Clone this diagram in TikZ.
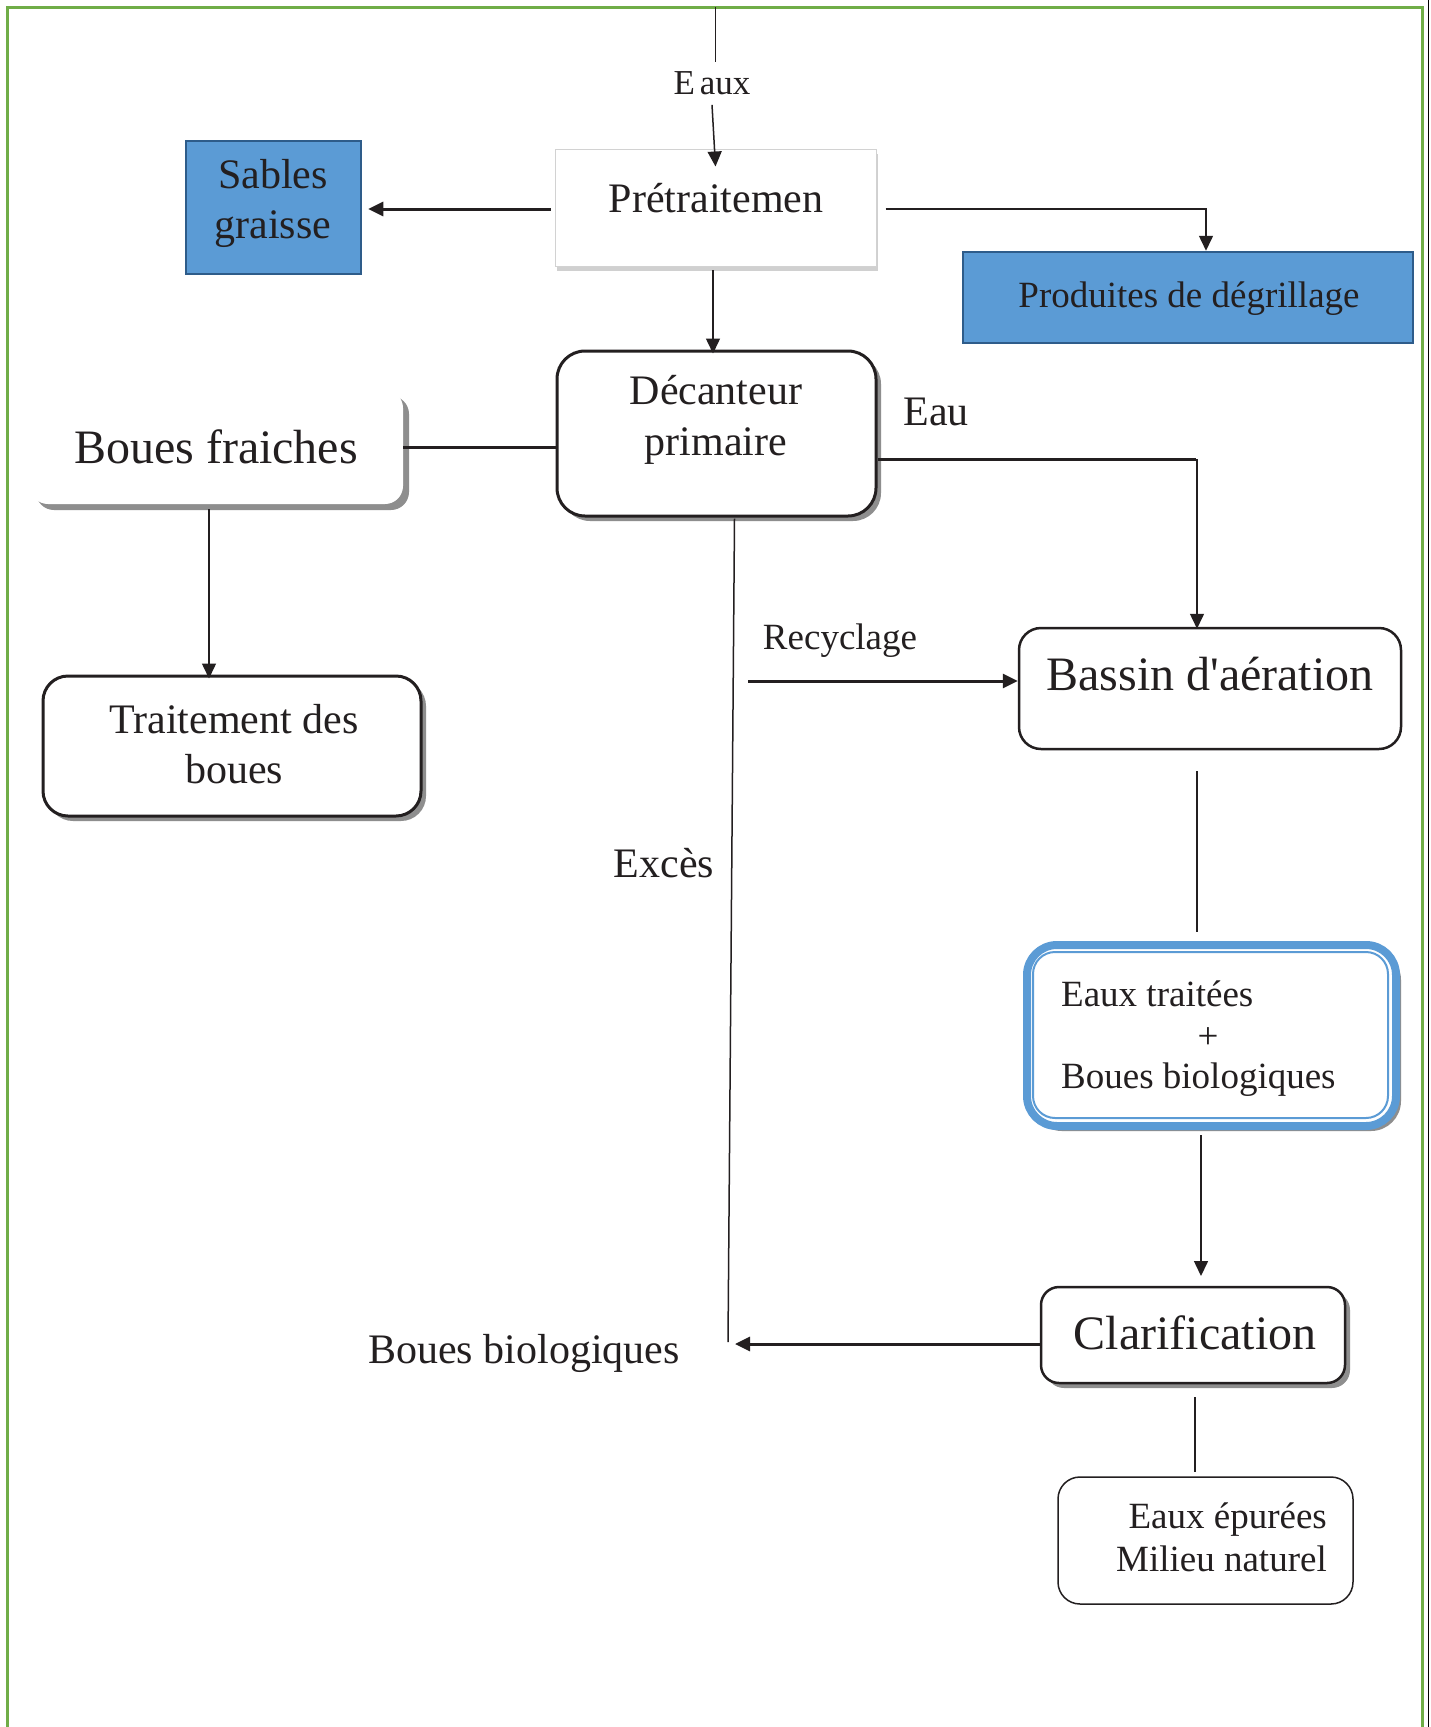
\documentclass[tikz,border=0pt]{standalone}
\usepackage{fontspec}
\setmainfont{Liberation Serif}
\usetikzlibrary{arrows.meta,shadows,calc}
\definecolor{ink}{HTML}{231F20}
\definecolor{bluefill}{HTML}{5B9BD5}
\definecolor{blueedge}{HTML}{2E5C8A}
\definecolor{framegreen}{HTML}{70AD47}
\definecolor{shade}{HTML}{8E8E8E}
\begin{document}
\begin{tikzpicture}[x=1pt,y=-1pt,
  txt/.style={text=ink, inner sep=0pt},
  fa/.style={font=\fontsize{35}{42}\selectfont},
  fb/.style={font=\fontsize{37}{43}\selectfont},
  fc/.style={font=\fontsize{42}{51}\selectfont},
  fd/.style={font=\fontsize{48}{56}\selectfont},
  box/.style={draw=ink, fill=white, inner sep=0pt},
  bluebox/.style={draw=blueedge, fill=bluefill, line width=2.5pt, inner sep=0pt},
  shd/.style={drop shadow={shadow xshift=5pt, shadow yshift=-5pt, fill=shade, opacity=1}},
  softshd/.style={drop shadow={shadow xshift=2pt, shadow yshift=-5pt, fill=gray!60, opacity=0.6}},
  arr/.style={-{Triangle[length=15pt,width=14pt]}},
  thin/.style={draw=ink, line width=1.5pt},
  thick/.style={draw=ink, line width=3pt}
]
\useasboundingbox (0,0) rectangle (1431,1727);
\fill[white] (0,0) rectangle (1431,1727);
\draw[framegreen, line width=3pt] (7,1727) -- (7,7) -- (1422,7) -- (1422,1727);
\draw[black, line width=1pt] (1428,0) -- (1428,1727);

% boxes
\node[box, draw=gray!35, line width=1pt, softshd, minimum width=321pt, minimum height=117pt] (pre) at (715.5,207.5) {};
\node[txt, fc] (pret) at (716,198) {Prétraitemen};

\node[bluebox, minimum width=175pt, minimum height=133pt] (sab) at (273.5,207.5) {};
\node[txt, align=center, font=\fontsize{42}{50}\selectfont] (sabt) at (273,203) {Sables\\graisse};

\node[bluebox, minimum width=450pt, minimum height=91pt] (prod) at (1188,297.5) {};
\node[txt, fb] (prodt) at (1189,299) {Produites de dégrillage};

\node[box, line width=3pt, rounded corners=28pt, shd, minimum width=319pt, minimum height=165pt] (dec) at (716.5,433.5) {};
\node[txt, fc, align=center] (dect) at (716,420) {Décanteur\\primaire};

\node[fill=white, rounded corners=18pt, drop shadow={shadow xshift=6pt, shadow yshift=-6pt, fill=shade, opacity=1}, minimum width=373pt, minimum height=114pt, inner sep=0pt] (bf) at (216.5,447) {};
\node[txt, fd] (bft) at (216,447) {Boues fraiches};

\node[box, line width=3pt, rounded corners=25pt, shd, minimum width=378pt, minimum height=140pt] (trt) at (232,746) {};
\node[txt, align=center, font=\fontsize{42}{50}\selectfont] (trtt) at (234,744) {Traitement des\\boues};

\node[box, line width=2.5pt, rounded corners=22pt, minimum width=382pt, minimum height=121pt] (bas) at (1210,688.5) {};
\node[txt, fd] (bast) at (1210,674) {Bassin d\textquotesingle aération};

\node[draw=bluefill, fill=white, line width=8pt, rounded corners=30pt, shd, minimum width=369pt, minimum height=181pt, inner sep=0pt] (et) at (1211.5,1035.5) {};
\node[draw=bluefill, line width=2pt, rounded corners=22pt, minimum width=355pt, minimum height=166pt, inner sep=0pt] (etin) at (1210.5,1035) {};
\node[txt, fb, anchor=west] (et1) at (1061,994) {Eaux traitées};
\node[txt, fb] (et2) at (1208,1038) {+};
\node[txt, fb, anchor=west] (et3) at (1061,1080) {Boues biologiques};

\node[box, line width=2.5pt, rounded corners=18pt, shd, minimum width=304pt, minimum height=96pt] (cla) at (1193,1335) {};
\node[txt, fd] (clat) at (1195,1333) {Clarification};

\node[box, line width=1.5pt, rounded corners=22pt, minimum width=295pt, minimum height=127pt] (epu) at (1205.5,1540.5) {};
\node[txt, fb, align=right, anchor=east] (eput) at (1327,1537) {Eaux épurées\\Milieu naturel};

% labels
\node[txt, fa] (leaux) at (712,83) {E\kern5pt aux};
\node[txt, fc] (leau) at (936,412) {Eau};
\node[txt, fb] (lrec) at (840,641) {Recyclage};
\node[txt, fc] (lexc) at (664,863) {Excès};
\node[txt, fc] (lbb) at (524,1353) {Boues biologiques};

% coordinates
\coordinate (top) at (715,7);
\coordinate (topend) at (715,62);
\coordinate (pd) at (713,270);
\coordinate (bt) at (209,509);
\coordinate (rs) at (748,681);
\coordinate (exend) at (728,1342);
\coordinate (bbtip) at (735,1344);
\coordinate (b1) at (1197,771);
\coordinate (b2) at (1197,932);
\coordinate (e1) at (1201,1135);
\coordinate (e2) at (1201,1276);
\coordinate (c1) at (1195,1397);
\coordinate (c2) at (1195,1472);

% connectors
\draw[draw=ink, line width=1pt] (top) -- (topend);
\draw[thin, arr] ([yshift=-10pt]leaux.south) -- ([yshift=-18pt]pre.north);
\draw[thick, arr] ([xshift=-4pt,yshift=-1.5pt]pre.west) -- ([xshift=6pt,yshift=-1.5pt]sab.east);
\draw[thin, arr] ([xshift=9pt,yshift=-1.5pt]pre.east) -| ([xshift=18pt]prod.north);
\draw[thin, arr] (pd) -- ([yshift=-4pt]pd |- dec.north);
\draw[thick] (bf.east) -- (bf.east -| dec.west);
\draw[thin, arr] (bt) -- ([yshift=-4pt]bt |- trt.north);
\draw[thick] ([yshift=-25.5pt]dec.east) -- ++(318,0);
\draw[thin, arr] ([yshift=-25.5pt]dec.east -| b1) -- ([yshift=-2pt]b1 |- bas.north);
\draw[thick, arr] (rs) -- (rs -| bas.west);
\draw[thin] ([xshift=18pt,yshift=-1pt]dec.south) -- (exend);
\draw[thick, arr] ([yshift=-9pt]cla.west) -- (bbtip);
\draw[thin] (b1) -- (b2);
\draw[thin, arr] (e1) -- (e2);
\draw[thin] (c1) -- (c2);
\end{tikzpicture}
\end{document}
